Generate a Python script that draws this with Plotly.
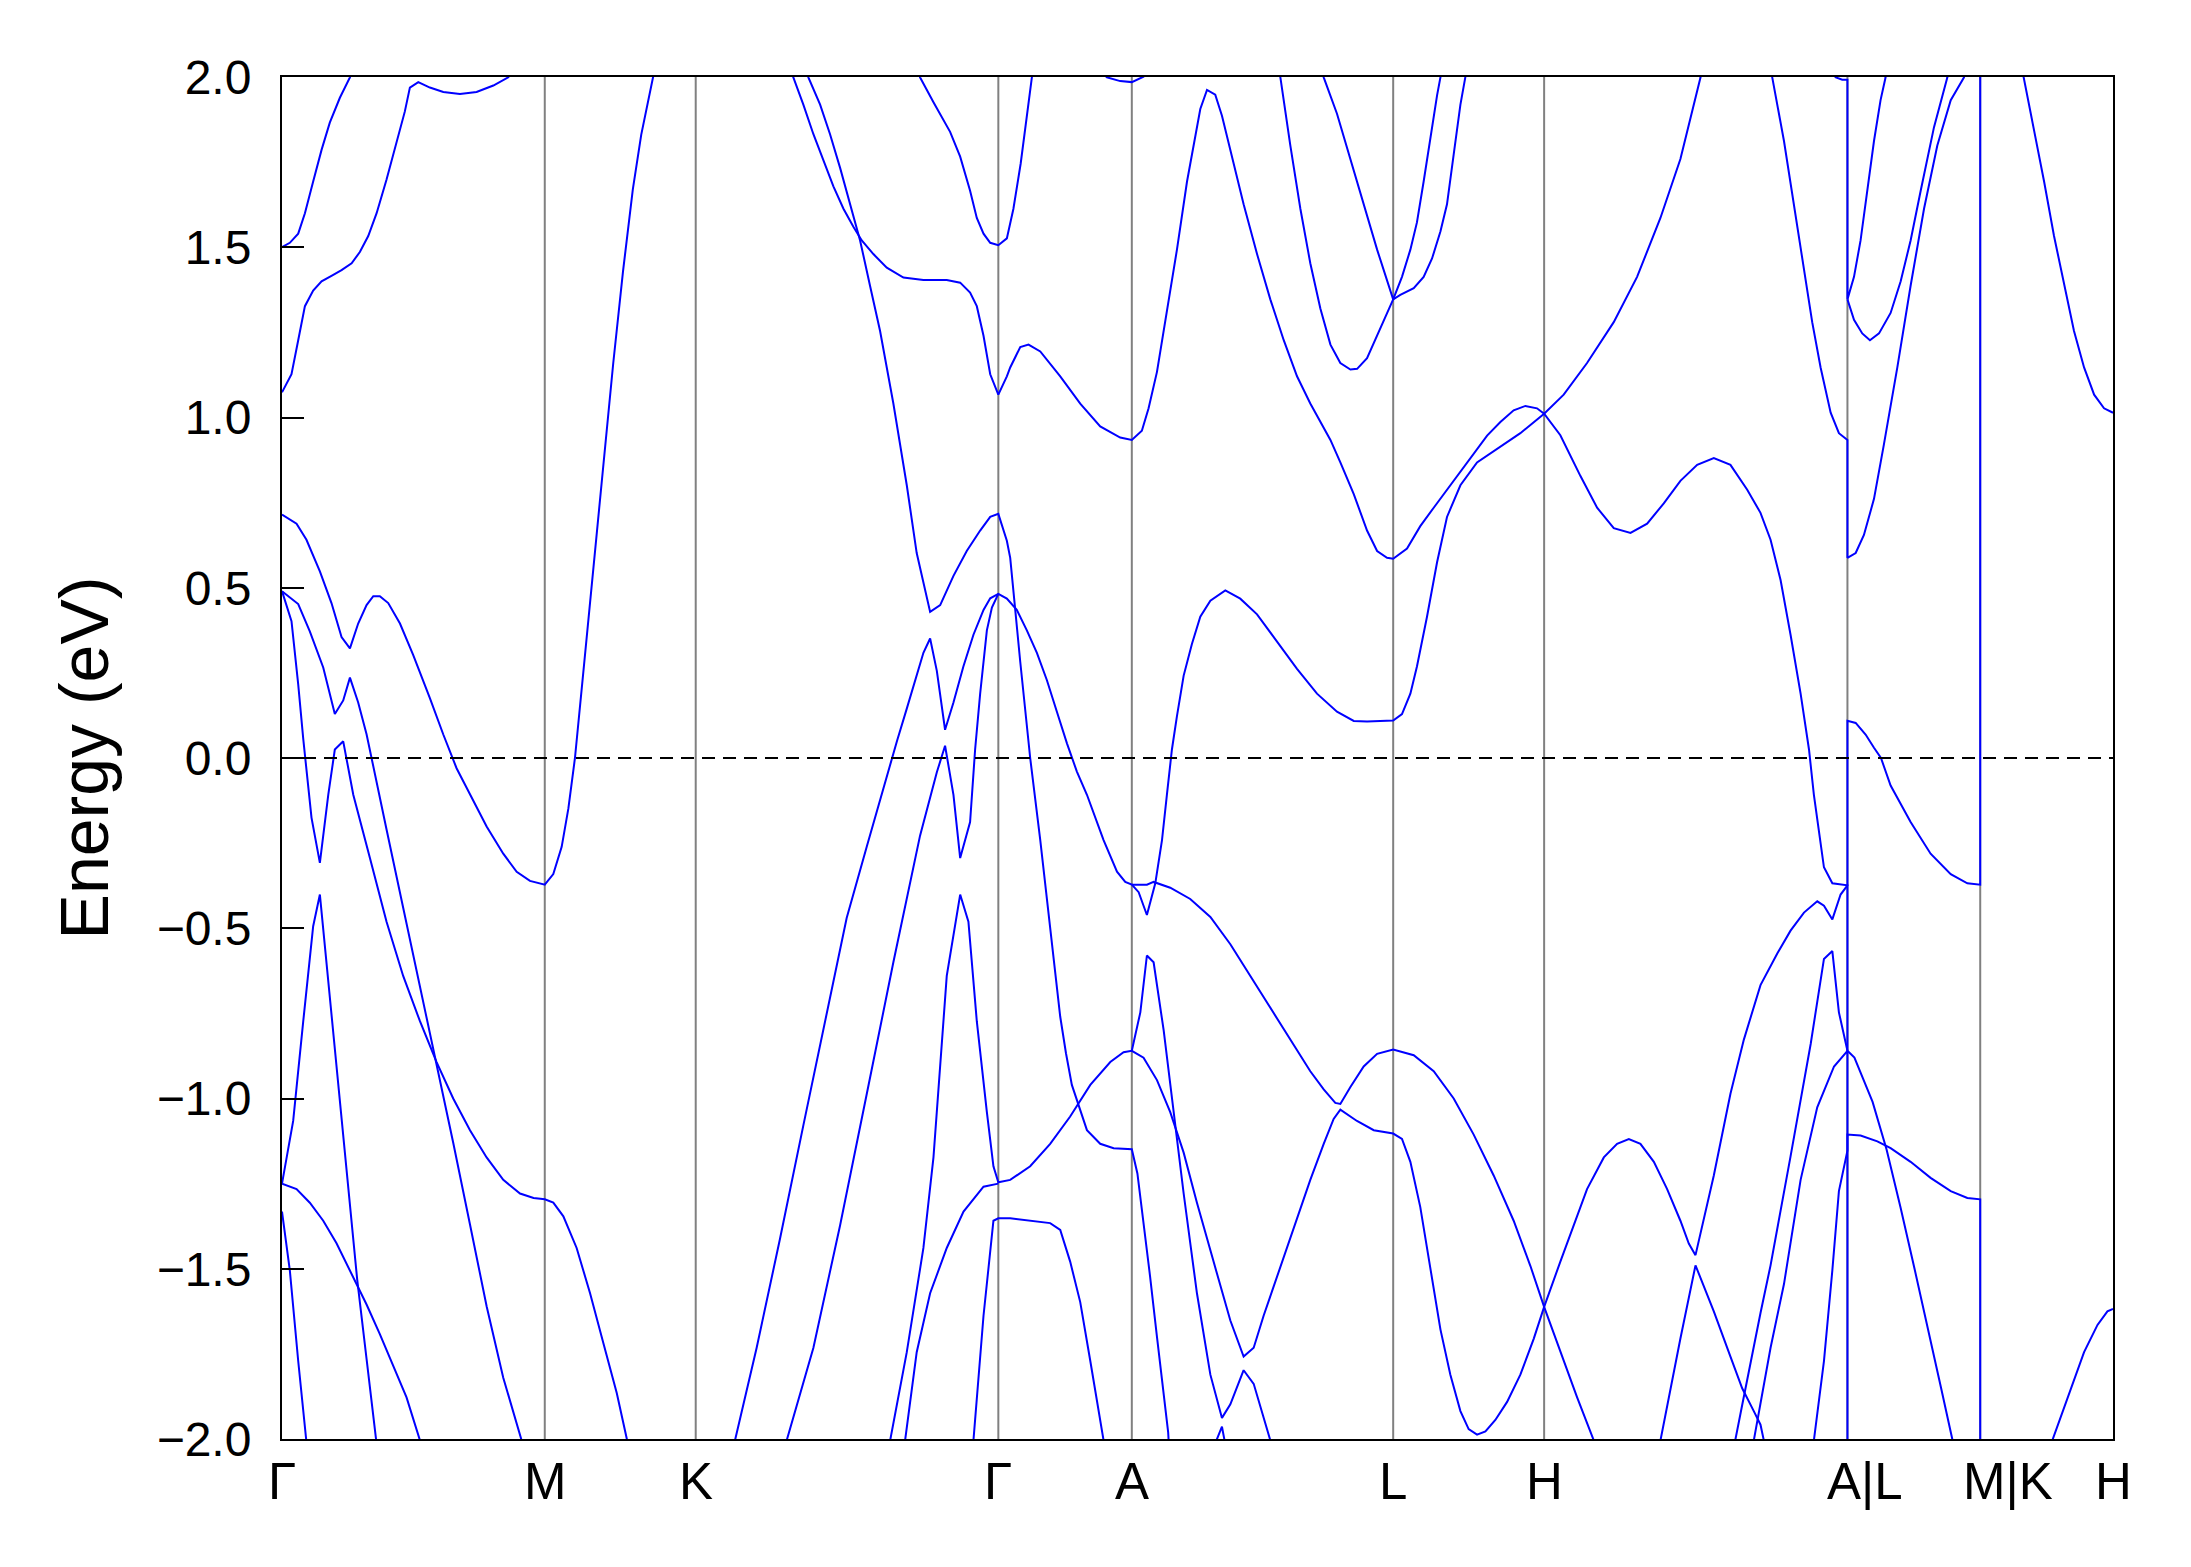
import plotly.graph_objects as go

# high-symmetry path (path coordinate) and labels
kticks = [0, 1.88, 2.96, 5.125, 6.08, 7.95, 9.03, 11.20, 12.15, 13.10]
klabels = ["Γ", "M", "K", "Γ", "A", "L", "H", "A|L", "M|K", "H"]
yticks = [-2.0, -1.5, -1.0, -0.5, 0.0, 0.5, 1.0, 1.5, 2.0]
e_fermi = 0.0

# bands as (k, E) points
band01 = [(0, 1.50), (0.056, 1.513), (0.116, 1.540), (0.164, 1.600), (0.223, 1.693), (0.283, 1.786),
          (0.342, 1.866), (0.414, 1.939), (0.486, 1.999), (0.53, 2.06)]
band02 = [(0, 1.074), (0.068, 1.127), (0.116, 1.227), (0.164, 1.327), (0.223, 1.373), (0.283, 1.400),
          (0.354, 1.416), (0.426, 1.433), (0.498, 1.453), (0.557, 1.486), (0.617, 1.533), (0.677, 1.600),
          (0.748, 1.699), (0.820, 1.806), (0.879, 1.899), (0.915, 1.969), (0.975, 1.985), (1.058, 1.969),
          (1.154, 1.956), (1.273, 1.950), (1.392, 1.956), (1.512, 1.975), (1.619, 1.999), (1.68, 2.04)]
band03 = [(0, 0.715), (0.104, 0.688), (0.175, 0.641), (0.271, 0.548), (0.354, 0.455), (0.426, 0.355),
          (0.486, 0.322), (0.545, 0.395), (0.605, 0.449), (0.653, 0.475), (0.700, 0.475), (0.760, 0.455),
          (0.844, 0.395), (0.939, 0.302), (1.058, 0.176), (1.154, 0.069), (1.249, -0.03), (1.345, -0.108),
          (1.464, -0.201), (1.583, -0.281), (1.679, -0.334), (1.774, -0.361), (1.88, -0.372), (1.941, -0.341),
          (2.001, -0.261), (2.049, -0.148), (2.096, 0.0), (2.16, 0.27), (2.23, 0.57), (2.30, 0.87),
          (2.37, 1.16), (2.44, 1.43), (2.51, 1.67), (2.57, 1.83), (2.63, 1.95), (2.67, 2.03)]
band04 = [(0, 0.49), (0.068, 0.402), (0.116, 0.216), (0.152, 0.056), (0.211, -0.175), (0.271, -0.308),
          (0.331, -0.108), (0.378, 0.025), (0.438, 0.049), (0.510, -0.108), (0.629, -0.294), (0.748, -0.481),
          (0.867, -0.640), (0.987, -0.773), (1.106, -0.893), (1.225, -1.000), (1.345, -1.093), (1.464, -1.173),
          (1.583, -1.239), (1.703, -1.279), (1.80, -1.292), (1.88, -1.296), (1.941, -1.306), (2.013, -1.346),
          (2.108, -1.439), (2.204, -1.572), (2.299, -1.718), (2.395, -1.865), (2.466, -1.998), (2.49, -2.05)]
band05 = [(0, 0.49), (0.116, 0.452), (0.199, 0.372), (0.295, 0.266), (0.378, 0.129), (0.438, 0.169),
          (0.486, 0.236), (0.545, 0.163), (0.605, 0.070), (0.64, 0.0), (0.748, -0.21), (0.867, -0.44),
          (0.987, -0.67), (1.106, -0.90), (1.225, -1.13), (1.345, -1.37), (1.464, -1.61), (1.583, -1.82),
          (1.715, -2.0), (1.74, -2.04)]
band06 = [(0, -1.25), (0.080, -1.066), (0.152, -0.773), (0.223, -0.494), (0.271, -0.401), (0.307, -0.554),
          (0.343, -0.706), (0.390, -0.906), (0.462, -1.211), (0.538, -1.532), (0.605, -1.765), (0.677, -2.011),
          (0.69, -2.06)]
band07 = [(0, -1.25), (0.104, -1.266), (0.199, -1.306), (0.295, -1.359), (0.390, -1.425), (0.486, -1.505),
          (0.545, -1.552), (0.605, -1.605), (0.700, -1.692), (0.796, -1.785), (0.891, -1.878), (0.987, -2.004),
          (1.0, -2.02)]
band08 = [(0, -1.332), (0.056, -1.505), (0.116, -1.771), (0.175, -2.004), (0.18, -2.03)]
band09 = [(3.22, -2.05), (3.241, -2.004), (3.396, -1.732), (3.563, -1.412), (3.730, -1.079), (3.897, -0.747),
          (4.040, -0.47), (4.184, -0.26), (4.327, -0.05), (4.40, 0.05), (4.470, 0.145), (4.589, 0.309),
          (4.637, 0.351), (4.685, 0.256), (4.744, 0.083), (4.804, 0.163), (4.875, 0.269), (4.947, 0.362),
          (5.019, 0.435), (5.067, 0.469), (5.125, 0.482), (5.186, 0.468), (5.257, 0.435), (5.329, 0.375),
          (5.401, 0.309), (5.472, 0.229), (5.544, 0.136), (5.616, 0.043), (5.687, -0.04), (5.759, -0.108),
          (5.878, -0.241), (5.974, -0.334), (6.033, -0.364), (6.08, -0.372), (6.129, -0.394), (6.188, -0.461),
          (6.248, -0.368), (6.296, -0.241), (6.331, -0.108), (6.367, 0.025), (6.403, 0.123), (6.451, 0.242),
          (6.510, 0.335), (6.570, 0.415), (6.642, 0.462), (6.749, 0.492), (6.856, 0.468), (6.976, 0.422),
          (7.119, 0.342), (7.262, 0.262), (7.405, 0.189), (7.548, 0.136), (7.668, 0.109), (7.763, 0.107),
          (7.95, 0.11), (8.013, 0.129), (8.073, 0.189), (8.120, 0.269), (8.192, 0.415), (8.264, 0.575),
          (8.335, 0.708), (8.431, 0.801), (8.550, 0.868), (8.693, 0.908), (8.860, 0.954), (9.03, 1.011),
          (9.170, 1.067), (9.337, 1.160), (9.528, 1.280), (9.695, 1.413), (9.862, 1.586), (10.005, 1.759),
          (10.149, 1.999), (10.17, 2.05)]
band10 = [(3.59, -2.05), (3.611, -2.004), (3.802, -1.732), (3.993, -1.372), (4.184, -0.986), (4.374, -0.600),
          (4.565, -0.228), (4.685, -0.042), (4.744, 0.036), (4.804, -0.108), (4.852, -0.294), (4.923, -0.188),
          (4.959, 0.025), (4.995, 0.189), (5.043, 0.375), (5.079, 0.442), (5.125, 0.482)]
band11 = [(4.33, -2.05), (4.351, -2.004), (4.470, -1.745), (4.589, -1.439), (4.661, -1.173), (4.756, -0.640),
          (4.852, -0.401), (4.911, -0.481), (4.971, -0.773), (5.043, -1.040), (5.090, -1.199), (5.125, -1.246),
          (5.210, -1.239), (5.353, -1.199), (5.496, -1.133), (5.639, -1.053), (5.783, -0.960), (5.926, -0.893),
          (6.021, -0.864), (6.08, -0.860), (6.164, -0.880), (6.260, -0.946), (6.355, -1.040), (6.451, -1.159),
          (6.546, -1.306), (6.665, -1.479), (6.785, -1.652), (6.880, -1.758), (6.952, -1.732), (7.023, -1.638),
          (7.190, -1.439), (7.357, -1.239), (7.453, -1.133), (7.524, -1.060), (7.572, -1.033), (7.691, -1.066),
          (7.811, -1.093), (7.95, -1.103), (8.013, -1.119), (8.073, -1.186), (8.144, -1.319), (8.216, -1.505),
          (8.288, -1.678), (8.359, -1.811), (8.431, -1.918), (8.490, -1.971), (8.550, -1.987), (8.610, -1.978),
          (8.681, -1.944), (8.765, -1.891), (8.860, -1.811), (8.956, -1.705), (9.03, -1.612), (9.146, -1.479),
          (9.242, -1.372), (9.337, -1.266), (9.457, -1.173), (9.552, -1.133), (9.636, -1.119), (9.719, -1.133),
          (9.815, -1.186), (9.910, -1.266), (10.005, -1.359), (10.065, -1.426), (10.113, -1.46),
          (10.244, -1.226), (10.363, -0.986), (10.459, -0.827), (10.578, -0.667), (10.698, -0.574),
          (10.793, -0.507), (10.889, -0.454), (10.984, -0.421), (11.032, -0.434), (11.092, -0.474),
          (11.151, -0.401), (11.20, -0.374),
          (11.20, 0.109), (11.259, 0.103), (11.330, 0.069), (11.390, 0.03), (11.44, 0.0), (11.509, -0.081),
          (11.652, -0.188), (11.795, -0.281), (11.939, -0.341), (12.058, -0.368), (12.15, -0.372),
          (12.15, 2.65), (12.464, 1.999), (12.535, 1.852), (12.607, 1.693), (12.678, 1.533), (12.750, 1.387),
          (12.821, 1.254), (12.893, 1.147), (12.965, 1.067), (13.036, 1.027), (13.10, 1.014)]
band12 = [(4.44, -2.05), (4.458, -2.004), (4.541, -1.745), (4.637, -1.572), (4.756, -1.439), (4.876, -1.332),
          (5.019, -1.259), (5.125, -1.250)]
band13 = [(4.94, -2.05), (4.947, -2.004), (5.019, -1.638), (5.090, -1.359), (5.125, -1.352), (5.210, -1.352),
          (5.496, -1.366), (5.568, -1.386), (5.639, -1.479), (5.711, -1.598), (5.783, -1.771), (5.878, -2.004),
          (5.89, -2.05)]
band14 = [(3.635, 2.025), (3.730, 1.919), (3.802, 1.832), (3.873, 1.753), (3.945, 1.679), (4.017, 1.613),
          (4.088, 1.560), (4.148, 1.520), (4.231, 1.480), (4.327, 1.440), (4.446, 1.411), (4.589, 1.404),
          (4.756, 1.404), (4.852, 1.396), (4.923, 1.367), (4.971, 1.327), (5.019, 1.240), (5.067, 1.127),
          (5.125, 1.067), (5.186, 1.121), (5.21, 1.147), (5.282, 1.207), (5.341, 1.214), (5.425, 1.194),
          (5.568, 1.121), (5.711, 1.041), (5.854, 0.974), (5.997, 0.941), (6.08, 0.934), (6.152, 0.961),
          (6.200, 1.027), (6.260, 1.134), (6.331, 1.307), (6.403, 1.493), (6.475, 1.693), (6.522, 1.799),
          (6.570, 1.906), (6.618, 1.962), (6.677, 1.948), (6.725, 1.886), (6.785, 1.786), (6.880, 1.626),
          (6.976, 1.480), (7.071, 1.347), (7.167, 1.227), (7.262, 1.121), (7.357, 1.041), (7.501, 0.934),
          (7.572, 0.868), (7.668, 0.775), (7.763, 0.668), (7.835, 0.608), (7.906, 0.588), (7.95, 0.585),
          (8.049, 0.615), (8.144, 0.681), (8.240, 0.735), (8.335, 0.788), (8.431, 0.841), (8.526, 0.894),
          (8.622, 0.947), (8.717, 0.987), (8.812, 1.021), (8.896, 1.034), (8.979, 1.027), (9.03, 1.011),
          (9.146, 0.948), (9.290, 0.828), (9.409, 0.735), (9.528, 0.675), (9.648, 0.661), (9.767, 0.688),
          (9.886, 0.748), (10.005, 0.814), (10.125, 0.861), (10.244, 0.881), (10.363, 0.861), (10.483, 0.788),
          (10.578, 0.72), (10.650, 0.641), (10.722, 0.522), (10.793, 0.362), (10.865, 0.189), (10.925, 0.025),
          (10.960, -0.108), (10.996, -0.215), (11.032, -0.321), (11.092, -0.368), (11.187, -0.374),
          (11.20, -0.374),
          (11.20, -0.860), (11.25, -0.88), (11.30, -0.93), (11.38, -1.01), (11.48, -1.15), (11.58, -1.32),
          (11.68, -1.50), (11.78, -1.68), (11.87, -1.85), (11.95, -2.0), (11.97, -2.05)]
band15 = [(3.74, 2.04), (3.766, 1.999), (3.850, 1.919), (3.921, 1.832), (3.993, 1.733), (4.064, 1.626),
          (4.136, 1.520), (4.207, 1.387), (4.279, 1.254), (4.374, 1.041), (4.470, 0.801), (4.541, 0.602),
          (4.637, 0.429), (4.709, 0.449), (4.804, 0.535), (4.899, 0.608), (4.995, 0.668), (5.067, 0.708),
          (5.125, 0.717), (5.186, 0.638), (5.21, 0.588), (5.282, 0.282), (5.353, 0.0), (5.425, -0.241),
          (5.496, -0.507), (5.568, -0.76), (5.609, -0.867), (5.651, -0.960), (5.759, -1.093), (5.854, -1.133),
          (5.950, -1.146), (6.08, -1.149), (6.12, -1.22), (6.16, -1.35), (6.21, -1.52), (6.26, -1.70),
          (6.31, -1.88), (6.34, -1.98), (6.35, -2.05)]
band16 = [(4.55, 2.02), (4.565, 1.999), (4.661, 1.926), (4.780, 1.839), (4.852, 1.766), (4.923, 1.666),
          (4.971, 1.586), (5.019, 1.540), (5.067, 1.513), (5.125, 1.506), (5.186, 1.526), (5.233, 1.613),
          (5.285, 1.746), (5.329, 1.892), (5.365, 1.999), (5.38, 2.03)]
band17 = [(5.85, 2.02), (5.902, 1.999), (5.997, 1.988), (6.08, 1.985), (6.164, 2.001), (6.20, 2.02)]
band18 = [(7.13, 2.02), (7.143, 1.999), (7.214, 1.799), (7.286, 1.613), (7.357, 1.453), (7.429, 1.320),
          (7.501, 1.214), (7.572, 1.160), (7.644, 1.141), (7.692, 1.143), (7.763, 1.174), (7.835, 1.240),
          (7.95, 1.347), (8.001, 1.360), (8.097, 1.380), (8.168, 1.413), (8.228, 1.467), (8.288, 1.546),
          (8.335, 1.626), (8.383, 1.773), (8.431, 1.919), (8.466, 1.999), (8.48, 2.03)]
band19 = [(7.44, 2.02), (7.453, 1.999), (7.548, 1.892), (7.644, 1.759), (7.739, 1.626), (7.835, 1.493),
          (7.95, 1.347), (8.013, 1.413), (8.073, 1.493), (8.120, 1.573), (8.168, 1.693), (8.216, 1.826),
          (8.264, 1.946), (8.288, 1.999), (8.30, 2.03)]
band20 = [(11.10, 2.02), (11.115, 1.999), (11.163, 1.992), (11.20, 1.992), (11.20, 1.347), (11.247, 1.413),
          (11.294, 1.520), (11.342, 1.666), (11.390, 1.812), (11.437, 1.932), (11.473, 1.999), (11.48, 2.03)]
band21 = [(10.65, 2.02), (10.662, 1.999), (10.746, 1.812), (10.817, 1.626), (10.889, 1.440), (10.948, 1.280),
          (11.008, 1.147), (11.080, 1.014), (11.139, 0.954), (11.20, 0.934), (11.20, 0.588), (11.259, 0.602),
          (11.318, 0.655), (11.390, 0.761), (11.461, 0.921), (11.557, 1.147), (11.652, 1.387), (11.748, 1.613),
          (11.843, 1.799), (11.939, 1.932), (12.034, 1.999), (12.05, 2.03)]
band22 = [(11.20, 1.347), (11.247, 1.287), (11.306, 1.247), (11.361, 1.227), (11.426, 1.247), (11.509, 1.307),
          (11.581, 1.400), (11.652, 1.520), (11.724, 1.666), (11.819, 1.852), (11.915, 1.999), (11.93, 2.03)]
band23 = [(6.08, -0.372), (6.188, -0.372), (6.236, -0.364), (6.355, -0.381), (6.498, -0.414), (6.642, -0.467),
          (6.785, -0.547), (6.928, -0.640), (7.071, -0.734), (7.214, -0.827), (7.357, -0.920), (7.453, -0.973),
          (7.536, -1.013), (7.572, -1.016), (7.644, -0.966), (7.739, -0.906), (7.835, -0.869), (7.95, -0.856),
          (8.097, -0.873), (8.240, -0.920), (8.383, -1.000), (8.526, -1.106), (8.669, -1.226), (8.812, -1.359),
          (8.932, -1.492), (9.03, -1.612), (9.146, -1.745), (9.266, -1.878), (9.385, -2.004), (9.40, -2.03)]
band24 = [(6.08, -0.860), (6.141, -0.747), (6.188, -0.580), (6.236, -0.600), (6.308, -0.800), (6.379, -1.040),
          (6.451, -1.279), (6.546, -1.572), (6.642, -1.811), (6.725, -1.938), (6.785, -1.898), (6.880, -1.798),
          (6.952, -1.838), (7.071, -2.004), (7.08, -2.03)]
band25 = [(6.65, -2.04), (6.725, -1.964), (6.76, -2.04)]
band26 = [(9.85, -2.03), (9.862, -2.004), (10.005, -1.705), (10.113, -1.49), (10.244, -1.625), (10.363, -1.758),
          (10.447, -1.851), (10.530, -1.918), (10.578, -1.958), (10.61, -2.02)]
band27 = [(10.38, -2.04), (10.40, -2.0), (10.447, -1.90), (10.578, -1.63), (10.650, -1.49), (10.793, -1.17),
          (10.937, -0.84), (11.032, -0.59), (11.092, -0.567), (11.139, -0.747), (11.20, -0.860)]
band28 = [(10.51, -2.05), (10.530, -2.004), (10.578, -1.891), (10.650, -1.732), (10.746, -1.545),
          (10.865, -1.239), (10.984, -1.026), (11.104, -0.906), (11.20, -0.860), (11.20, -2.1)]
band29 = [(10.95, -2.05), (10.960, -2.004), (11.032, -1.771), (11.092, -1.505), (11.139, -1.272),
          (11.20, -1.153), (11.20, -1.106), (11.294, -1.109), (11.414, -1.126), (11.509, -1.146),
          (11.652, -1.186), (11.795, -1.233), (11.939, -1.272), (12.058, -1.292), (12.15, -1.296),
          (12.15, -2.62), (12.666, -2.004), (12.798, -1.851), (12.893, -1.745), (12.989, -1.665),
          (13.060, -1.625), (13.10, -1.618)]

bands = [band01, band02, band03, band04, band05, band06, band07, band08, band09, band10,
         band11, band12, band13, band14, band15, band16, band17, band18, band19, band20,
         band21, band22, band23, band24, band25, band26, band27, band28, band29]

fig = go.Figure()
for b in bands:
    fig.add_trace(go.Scatter(
        x=[p[0] for p in b], y=[p[1] for p in b], mode="lines",
        line=dict(color="#0000ff", width=2), showlegend=False, hoverinfo="skip"))

# high-symmetry lines and Fermi level
for k in kticks[1:-1]:
    fig.add_vline(x=k, line=dict(color="#808080", width=2), layer="below")
fig.add_hline(y=e_fermi, line=dict(color="black", width=2, dash="13px,8px"), layer="above")

# k-point labels under the axis (the combined labels sit a little right of their line)
for k, lab in zip(kticks, klabels):
    shift = 0
    if "|" in lab:
        shift = 18 if lab.startswith("A") else 28
    fig.add_annotation(x=k, y=0, xref="x", yref="paper", text=lab, showarrow=False,
                       xanchor="center", yanchor="middle", xshift=shift, yshift=-42,
                       font=dict(size=51))

font = "Liberation Sans, Arial, sans-serif"
# the page body adds 8px around the figure
fig.update_layout(
    width=2175, height=1551,
    margin=dict(l=274, r=70, t=69, b=120),
    paper_bgcolor="white", plot_bgcolor="white",
    font=dict(family=font, size=48, color="black"),
    xaxis=dict(range=[kticks[0], kticks[-1]], showticklabels=False,
               ticks="", showgrid=False, zeroline=False, showline=True, linecolor="black",
               linewidth=2, mirror=True),
    yaxis=dict(range=[-2, 2], tickmode="array", tickvals=yticks, tickformat=".1f",
               ticks="inside", ticklen=22, tickwidth=2, tickcolor="black",
               showgrid=False, zeroline=False, showline=True, linecolor="black",
               linewidth=2, mirror=True, tickfont=dict(size=48), ticklabelstandoff=19,
               title=dict(text="Energy (eV)", font=dict(size=68), standoff=26)),
)

fig.write_html("out.html")
